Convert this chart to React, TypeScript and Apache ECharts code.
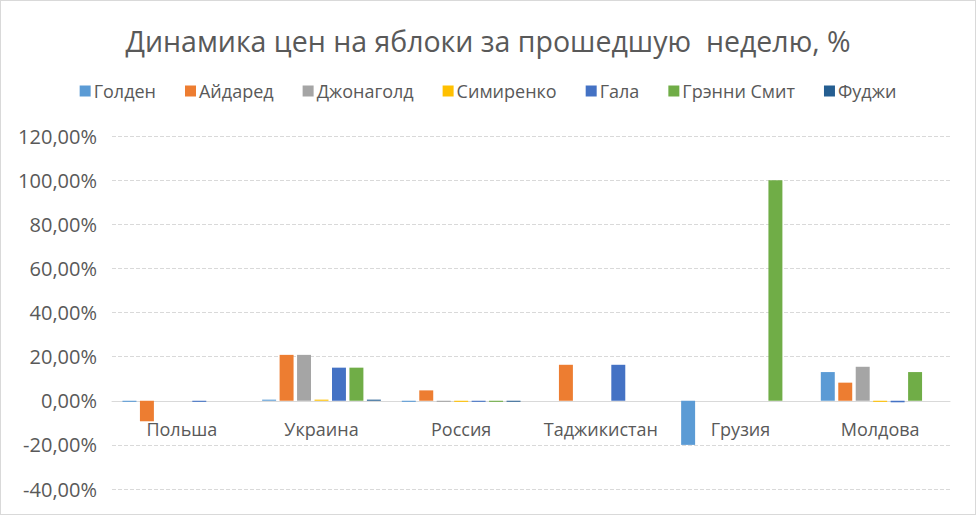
import React, { useEffect, useRef } from "react";
import * as echarts from "echarts";

const categories = ["Польша", "Украина", "Россия", "Таджикистан", "Грузия", "Молдова"];
const seriesNames = ["Голден", "Айдаред", "Джонаголд", "Симиренко", "Гала", "Грэнни Смит", "Фуджи"];
const colors = ["#5B9BD5", "#ED7D31", "#A5A5A5", "#FFC000", "#4472C4", "#70AD47", "#255E91"];

const golden = [-0.5, 0.5, -0.5, 0, -20, 13];
const aidared = [-9.3, 20.8, 4.7, 16.3, 0, 8.2];
const jonagold = [0, 20.8, -0.5, 0, 0, 15.4];
const simirenko = [0, 0.5, -0.5, 0, 0, -0.5];
const gala = [-0.5, 15, -0.5, 16.3, 0, -0.7];
const grannySmith = [0, 15, -0.5, 0, 100, 13];
const fuji = [0, 0.5, -0.5, 0, 0, 0];

const seriesData = [golden, aidared, jonagold, simirenko, gala, grannySmith, fuji];
const yMin = -40;
const yMax = 120;

const fmt = (v: number) => v.toFixed(2).replace(".", ",") + "%";

export default function App() {
  const ref = useRef<HTMLDivElement>(null);
  useEffect(() => {
    const chart = echarts.init(ref.current!, null, { renderer: "svg" });
    const font = "'Open Sans', 'Noto Sans', sans-serif";
    const gridTop = 135;
    const gridBottom = 25;
    const gridHeight = 513 - gridTop - gridBottom;
    const zeroOffset = (-yMin / (yMax - yMin)) * gridHeight;
    chart.setOption({
      animation: false,
      textStyle: { fontFamily: font },
      title: {
        text: "Динамика цен на яблоки за прошедшую  неделю, %",
        left: "center",
        top: 20,
        textStyle: { fontSize: 28.5, fontWeight: "normal", color: "#595959", fontFamily: font },
      },
      legend: {
        top: 76,
        left: "center",
        itemWidth: 11,
        itemHeight: 11,
        itemGap: 29,
        icon: "rect",
        textStyle: { fontSize: 18, color: "#595959", fontFamily: font, padding: [0, 0, 0, -2] },
        data: seriesNames,
      },
      grid: { left: 111, right: 25, top: gridTop, bottom: gridBottom, containLabel: false },
      xAxis: {
        type: "category",
        data: categories,
        position: "bottom",
        offset: -zeroOffset,
        axisLine: { onZero: false, lineStyle: { color: "#D9D9D9" } },
        axisTick: { show: false },
        axisLabel: { fontSize: 18, color: "#595959", margin: 19, interval: 0, fontFamily: font },
      },
      yAxis: {
        type: "value",
        min: yMin,
        max: yMax,
        interval: 20,
        axisLine: { show: false },
        axisTick: { show: false },
        splitLine: { lineStyle: { color: "#D9D9D9", type: "dashed" } },
        axisLabel: { fontSize: 20, color: "#595959", margin: 15, formatter: fmt, fontFamily: font },
      },
      series: seriesNames.map((name, i) => ({
        name,
        type: "bar",
        data: seriesData[i],
        barGap: "25%",
        barCategoryGap: "15%",
        itemStyle: { color: colors[i] },
      })),
    });
    return () => chart.dispose();
  }, []);
  return (
    <div
      style={{
        position: "absolute",
        left: 0,
        top: 0,
        width: 976,
        height: 515,
        boxSizing: "border-box",
        border: "1px solid #D9D9D9",
        background: "#fff",
      }}
    >
      <div ref={ref} style={{ width: 974, height: 513 }} />
    </div>
  );
}
